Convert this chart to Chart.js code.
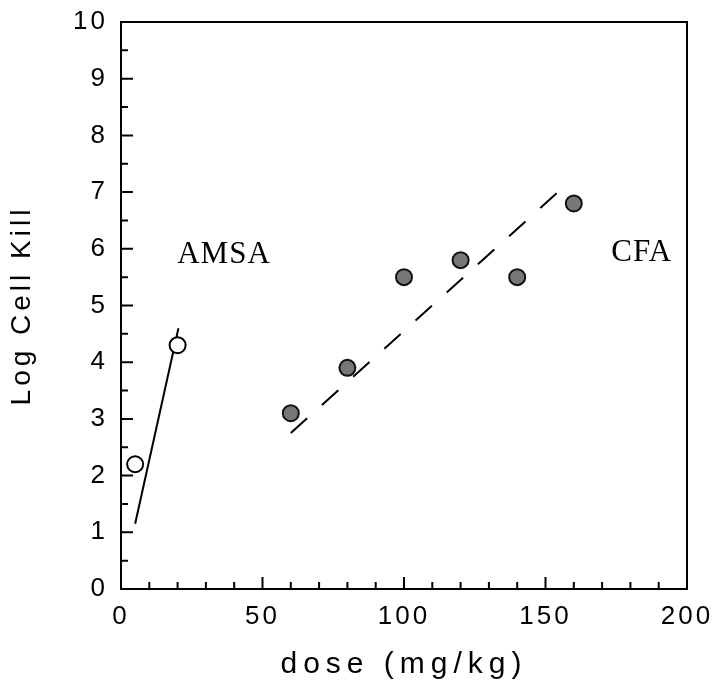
<!DOCTYPE html>
<html>
<head>
<meta charset="utf-8">
<script src="https://cdn.jsdelivr.net/npm/chart.js@4"></script>
<style>
  body { margin: 0; background: #fff; }
  #wrap { width: 716px; height: 696px; }
</style>
</head>
<body>
<div id="wrap"><canvas id="myChart"></canvas></div>
<script>
// measured points
const amsaDose = [5, 20];
const amsaKill = [2.2, 4.3];
const cfaDose = [60, 80, 100, 120, 140, 160];
const cfaKill = [3.1, 3.9, 5.5, 5.8, 5.5, 6.8];

// fitted lines (end points)
const amsaFitDose = [5, 20.3];
const amsaFitKill = [1.15, 4.6];
const cfaFitDose = [60, 155.5];
const cfaFitKill = [2.75, 7.05];

// group labels, in data units
const groupNames = ['AMSA', 'CFA'];
const groupX = [36.4, 184];
const groupY = [5.75, 5.78];

const xTicks = [0, 50, 100, 150, 200];
const yTicks = [0, 1, 2, 3, 4, 5, 6, 7, 8, 9, 10];

const pts = (xs, ys) => xs.map((x, i) => ({ x, y: ys[i] }));

const sans = "'Liberation Sans', Arial, sans-serif";

function spaced(scale, px) {
    if (scale._spaced) return;
    const draw = scale.drawTitle.bind(scale);
    scale.drawTitle = () => {
        const c = scale.ctx;
        const old = c.letterSpacing;
        c.letterSpacing = px;
        draw();
        c.letterSpacing = old;
    };
    scale._spaced = true;
}

const frame = {
    id: 'frame',
    afterUpdate(chart) {
        spaced(chart.scales.x, '6px');
        spaced(chart.scales.y, '4px');
    },
    beforeDraw(chart) {
        chart.ctx.letterSpacing = '3px';
    },
    afterDraw(chart) {
        const { ctx, chartArea: a, scales: { x, y } } = chart;
        ctx.save();
        ctx.letterSpacing = '0px';
        ctx.strokeStyle = '#000';
        ctx.lineWidth = 2;
        ctx.strokeRect(a.left, a.top, a.right - a.left, a.bottom - a.top);
        ctx.beginPath();
        // inward ticks on x
        for (let v = 10; v < 200; v += 10) {
            const px = x.getPixelForValue(v);
            const len = v % 50 === 0 ? 12 : 7;
            ctx.moveTo(px, a.bottom);
            ctx.lineTo(px, a.bottom - len);
        }
        // inward ticks on y
        for (let v = 0.5; v < 10; v += 0.5) {
            const py = y.getPixelForValue(v);
            const len = Number.isInteger(v) ? 12 : 7;
            ctx.moveTo(a.left, py);
            ctx.lineTo(a.left + len, py);
        }
        ctx.stroke();

        ctx.fillStyle = '#000';
        ctx.font = "31px 'Liberation Serif', 'Times New Roman', serif";
        ctx.textAlign = 'center';
        ctx.textBaseline = 'alphabetic';
        ctx.letterSpacing = '1px';
        groupNames.forEach((t, i) => {
            ctx.fillText(t, x.getPixelForValue(groupX[i]), y.getPixelForValue(groupY[i]));
        });
        ctx.restore();
    }
};

const ctx = document.getElementById('myChart');
const myChart = new Chart(ctx, {
    type: 'scatter',
    data: {
        datasets: [
            {
                label: 'AMSA',
                data: pts(amsaDose, amsaKill),
                pointRadius: 8,
                pointBackgroundColor: '#fff',
                pointBorderColor: '#000',
                pointBorderWidth: 2,
            },
            {
                label: 'AMSA fit',
                type: 'line',
                data: pts(amsaFitDose, amsaFitKill),
                borderColor: '#000',
                borderWidth: 2,
                pointRadius: 0,
                fill: false,
            },
            {
                label: 'CFA',
                data: pts(cfaDose, cfaKill),
                pointRadius: 8,
                pointBackgroundColor: '#777',
                pointBorderColor: '#111',
                pointBorderWidth: 2,
            },
            {
                label: 'CFA fit',
                type: 'line',
                data: pts(cfaFitDose, cfaFitKill),
                borderColor: '#000',
                borderWidth: 2,
                borderDash: [22, 20],
                pointRadius: 0,
                fill: false,
            },
        ]
    },
    options: {
        responsive: true,
        maintainAspectRatio: false,
        animation: false,
        layout: {
            padding: { top: 22, right: 29, left: 0, bottom: 0 },
        },
        plugins: {
            legend: { display: false },
            title: { display: false },
            tooltip: { enabled: false },
        },
        scales: {
            x: {
                type: 'linear',
                min: 0,
                max: 200,
                afterFit: s => { s.height = 107; s.paddingLeft = 0; s.paddingRight = 0; },
                afterBuildTicks: s => { s.ticks = xTicks.map(value => ({ value })); },
                grid: { display: false, drawTicks: false },
                border: { display: false },
                ticks: {
                    color: '#000',
                    padding: 12,
                    maxRotation: 0,
                    font: { family: sans, size: 26 },
                },
                title: {
                    display: true,
                    text: 'dose (mg/kg)',
                    color: '#000',
                    padding: { top: 0, bottom: 13 },
                    font: { family: sans, size: 30 },
                },
            },
            y: {
                type: 'linear',
                min: 0,
                max: 10,
                afterFit: s => { s.width = 121; s.paddingTop = 0; s.paddingBottom = 0; },
                afterBuildTicks: s => { s.ticks = yTicks.map(value => ({ value })); },
                grid: { display: false, drawTicks: false },
                border: { display: false },
                ticks: {
                    color: '#000',
                    padding: 13,
                    font: { family: sans, size: 26 },
                },
                title: {
                    display: true,
                    text: 'Log Cell Kill',
                    color: '#000',
                    padding: { top: 5, bottom: 0 },
                    font: { family: sans, size: 28 },
                },
            }
        }
    },
    plugins: [frame],
});
</script>
</body>
</html>
